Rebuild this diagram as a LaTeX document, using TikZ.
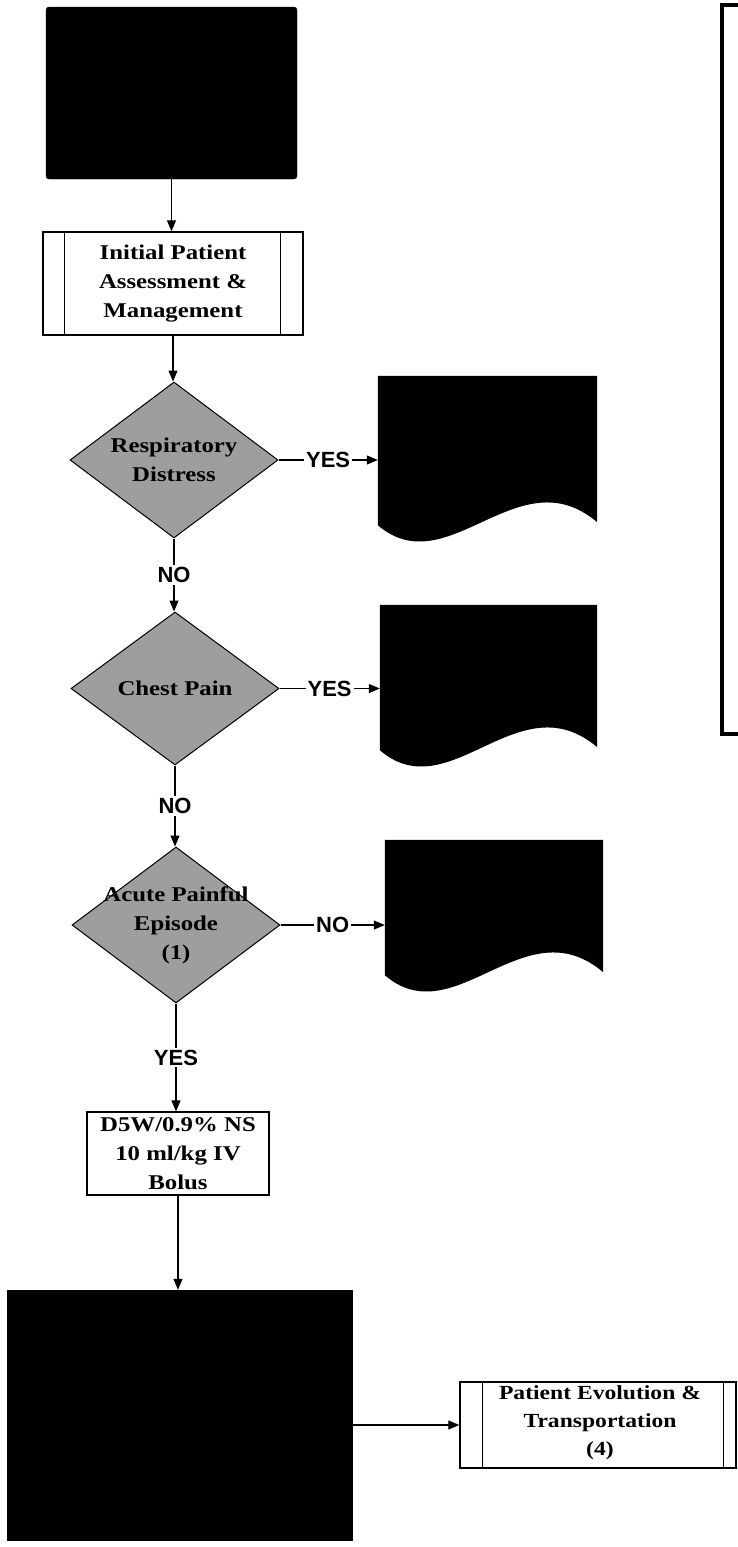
\documentclass[tikz,border=0pt]{standalone}
\usepackage{fontspec}
\setmainfont{Liberation Serif}
\newfontfamily\labfont{Liberation Sans}
\newfontfamily\boxfont[FakeStretch=1.18]{Liberation Serif}
\usetikzlibrary{shapes.geometric,arrows.meta,calc}
\tikzset{
  conn/.style={line width=1.1pt,-{Triangle[length=11pt,width=9pt]}},
  lbl/.style={font=\labfont\bfseries\fontsize{22pt}{22pt}\selectfont,fill=white,inner sep=2pt},
  txt/.style={font=\boxfont\bfseries\fontsize{21pt}{29pt}\selectfont,align=center,inner sep=0pt},
  procbox/.style={draw=black,line width=1.3pt,fill=white,rectangle,inner sep=0pt},
  blackbox/.style={fill=black,draw=black,rectangle,inner sep=0pt},
  docarea/.style={rectangle,inner sep=0pt,draw=none},
  decision/.style={diamond,draw=black,line width=1pt,fill=black!38,inner sep=0pt,minimum width=208pt,minimum height=156pt},
}
\newcommand{\docshape}[1]{%
  \fill[black] (#1.north west) -- (#1.north east) -- ($(#1.south east)+(0,-3)$)
    .. controls ($(#1.south east)+(-79,-70)$) and ($(#1.south west)+(70,60)$) .. (#1.south west) -- cycle;}
\begin{document}
\begin{tikzpicture}[x=1pt,y=-1pt]
\useasboundingbox (0,0) rectangle (738,1547);
% top black box
\node[blackbox,rounded corners=3pt,minimum width=251pt,minimum height=172pt] (top) at (171.5,93) {};
% initial assessment
\node[procbox,minimum width=260pt,minimum height=103pt] (init) at (173,283.5) {};
\draw[line width=1.1pt] ([xshift=22pt]init.north west) -- ([xshift=22pt]init.south west);
\draw[line width=1.1pt] ([xshift=-23pt]init.north east) -- ([xshift=-23pt]init.south east);
\node[txt] (initt) at (init) {Initial Patient\\Assessment \&\\Management};
% decisions
\node[decision] (d1) at (174,460) {};
\node[txt] (d1t) at (d1) {Respiratory\\Distress};
\node[decision,minimum height=153pt] (d2) at (175,688.5) {};
\node[txt] (d2t) at (d2) {Chest Pain};
\node[decision] (d3) at (176,925) {};
\node[txt] (d3t) at (d3) {Acute Painful\\Episode\\(1)};
% document shapes
\node[docarea,minimum width=219pt,minimum height=149pt] (b1) at (487.5,450.5) {};
\docshape{b1}
\node[docarea,minimum width=217pt,minimum height=145pt] (b2) at (488.5,677.5) {};
\docshape{b2}
\node[docarea,minimum width=218pt,minimum height=135pt] (b3) at (494,907.5) {};
\docshape{b3}
% D5W box
\node[procbox,line width=1.1pt,minimum width=182pt,minimum height=83pt] (d5w) at (178,1153.5) {};
\node[txt] (d5wt) at (d5w) {D5W/0.9\% NS\\10 ml/kg IV\\Bolus};
% big black box
\node[blackbox,minimum width=345pt,minimum height=250pt] (big) at (179.5,1415) {};
% patient evolution
\node[procbox,minimum width=276pt,minimum height=86pt] (pe) at (598,1425) {};
\draw[line width=1.1pt] ([xshift=23pt]pe.north west) -- ([xshift=23pt]pe.south west);
\draw[line width=1.1pt] ([xshift=-13pt]pe.north east) -- ([xshift=-13pt]pe.south east);
\node[txt,font=\boxfont\bfseries\fontsize{20pt}{28pt}\selectfont] (pet) at ($(pe)+(2,-2)$) {Patient Evolution \&\\Transportation\\(4)};
% right bracket box
\draw[line width=4pt] (740,5) -- (722,5) -- (722,734) -- (740,734);
% connectors
\draw[conn] (top.south) -- (top.south |- init.north);
\draw[conn] (init.south) -- (init.south |- d1.north);
\draw[conn] (d1.south) -- node[lbl]{NO} (d1.south |- d2.north);
\draw[conn] (d2.south) -- node[lbl]{NO} (d2.south |- d3.north);
\draw[conn] (d3.south) -- node[lbl]{YES} (d3.south |- d5w.north);
\draw[conn] (d5w.south) -- (d5w.south |- big.north);
\draw[conn] (d1.east) -- node[lbl]{YES} (d1.east -| b1.west);
\draw[conn] (d2.east) -- node[lbl]{YES} (d2.east -| b2.west);
\draw[conn] (d3.east) -- node[lbl]{NO} (d3.east -| b3.west);
\draw[conn] (pe.west -| big.east) -- (pe.west);
\end{tikzpicture}
\end{document}
